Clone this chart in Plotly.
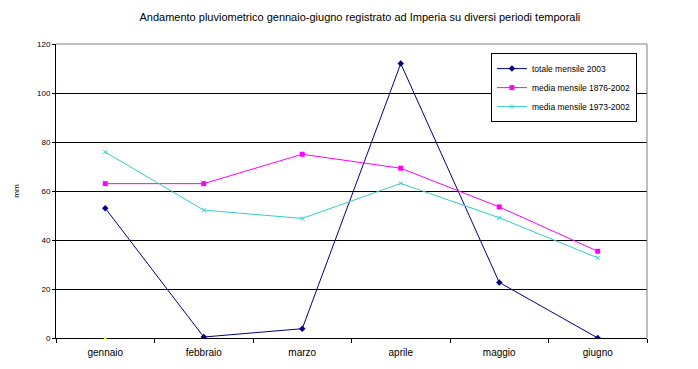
import plotly.graph_objects as go

months = ["gennaio", "febbraio", "marzo", "aprile", "maggio", "giugno"]
totale_2003 = [53, 0.4, 3.8, 112, 22.7, 0]
media_1876_2002 = [63, 63, 75, 69.3, 53.5, 35.4]
media_1973_2002 = [75.9, 52.2, 48.8, 63.1, 49.1, 32.7]
extra_months = ["gennaio"]
extra_values = [0]

title = "Andamento pluviometrico gennaio-giugno registrato ad Imperia su diversi periodi temporali"
font_family = "Liberation Sans, Arial, sans-serif"

fig = go.Figure()
fig.add_trace(go.Scatter(x=months, y=totale_2003, name="totale mensile 2003",
                         mode="lines+markers", line=dict(color="#000080", width=1),
                         marker=dict(symbol="diamond", size=5, color="#000080")))
fig.add_trace(go.Scatter(x=months, y=media_1876_2002, name="media mensile 1876-2002",
                         mode="lines+markers", line=dict(color="#FF00FF", width=1),
                         marker=dict(symbol="square", size=5, color="#FF00FF")))
fig.add_trace(go.Scatter(x=months, y=media_1973_2002, name="media mensile 1973-2002",
                         mode="lines+markers", line=dict(color="#33CCCC", width=1),
                         marker=dict(symbol="x-thin", size=4, color="#33CCCC",
                                     line=dict(color="#33CCCC", width=1))))
fig.add_trace(go.Scatter(x=extra_months, y=extra_values, mode="markers", showlegend=False,
                         cliponaxis=False,
                         marker=dict(symbol="circle", size=3, color="#FFFF00")))

fig.update_layout(
    width=690, height=361,
    margin=dict(l=48, r=51, t=36, b=31),
    paper_bgcolor="white", plot_bgcolor="white",
    font=dict(family=font_family, size=9, color="black"),
    title=dict(text=title, x=0.51, xanchor="center", y=0.975, yanchor="middle",
               font=dict(size=11, family=font_family)),
    showlegend=True,
    legend=dict(x=0.983, xanchor="right", y=0.969, yanchor="top",
                bgcolor="white", bordercolor="black", borderwidth=1,
                font=dict(size=8.5, family=font_family), tracegroupgap=0,
                itemwidth=30),
    xaxis=dict(type="category", tickson="boundaries", ticks="outside", ticklen=4,
               tickcolor="black", showline=True, linecolor="black", linewidth=1,
               showgrid=False, tickfont=dict(size=10), range=[-0.5, 5.5],
               ticklabelstandoff=5, automargin=False, layer="below traces"),
    yaxis=dict(range=[0, 120], dtick=20, ticks="outside", ticklen=3, tickcolor="black",
               showline=True, linecolor="black", linewidth=1,
               showgrid=True, gridcolor="black", gridwidth=1, zeroline=False,
               tickfont=dict(size=8), automargin=False, layer="below traces",
               title=dict(text="mm", font=dict(size=8), standoff=16)),
    shapes=[
        dict(type="line", xref="paper", yref="paper", x0=0, x1=1, y0=1, y1=1,
             line=dict(color="#808080", width=1)),
        dict(type="line", xref="paper", yref="paper", x0=1, x1=1, y0=0, y1=1,
             line=dict(color="#808080", width=1)),
    ],
)

fig.write_html("out.html")
